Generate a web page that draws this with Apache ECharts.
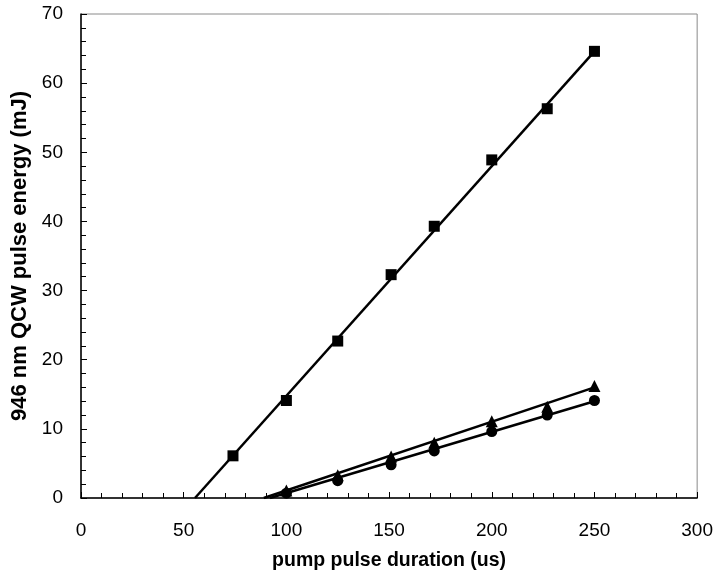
<!DOCTYPE html>
<html>
<head>
<meta charset="utf-8">
<script src="https://cdn.jsdelivr.net/npm/echarts@6/dist/echarts.min.js"></script>
<style>
html,body{margin:0;padding:0;background:#fff;}
#chart{width:716px;height:576px;}
</style>
</head>
<body>
<div id="chart"></div>
<script>
// Data
var squareX = [74, 100, 125, 151, 172, 200, 227, 250];
var squareY = [6.1, 14.1, 22.7, 32.3, 39.3, 48.9, 56.3, 64.6];
var lowX = [100, 125, 151, 172, 200, 227, 250];
var triangleY = [1.1, 3.3, 6.0, 8.0, 11.1, 13.2, 16.2];
var circleY = [0.7, 2.5, 4.8, 6.8, 9.6, 12.0, 14.1];
// Linear fit lines (endpoints)
var squareFitX = [55.5, 250];
var squareFitY = [0, 64.6];
var triangleFitX = [89, 250];
var triangleFitY = [0, 16.0];
var circleFitX = [92, 250];
var circleFitY = [0, 14.0];

var xTitle = 'pump pulse duration (us)';
var yTitle = '946 nm QCW pulse energy (mJ)';

function pairs(xs, ys) { return xs.map(function (x, i) { return [x, ys[i]]; }); }

var font = 'Liberation Sans, Arial, Helvetica, sans-serif';
var chart = echarts.init(document.getElementById('chart'), null, {renderer: 'canvas'});

function fitSeries(xs, ys) {
  return {
    type: 'line', data: pairs(xs, ys), showSymbol: false, symbol: 'none',
    lineStyle: {color: '#000', width: 2.5}, silent: true, z: 3, animation: false
  };
}
function pointSeries(xs, ys, symbol, size) {
  return {
    type: 'scatter', data: pairs(xs, ys), symbol: symbol, symbolSize: size,
    itemStyle: {color: '#000', opacity: 1}, z: 4, animation: false
  };
}

chart.setOption({
  animation: false,
  backgroundColor: '#fff',
  grid: {left: 81, right: 17, top: 14, bottom: 77, show: true, borderColor: '#8a8a8a', borderWidth: 1, backgroundColor: 'transparent'},
  xAxis: {
    type: 'value', min: 0, max: 300, interval: 50,
    name: xTitle, nameLocation: 'middle', nameGap: 53,
    nameTextStyle: {fontFamily: font, fontSize: 19.5, fontWeight: 'bold', color: '#000'},
    axisLine: {show: true, onZero: false, lineStyle: {color: '#000', width: 1.5}},
    axisTick: {show: true, inside: true, length: 6, lineStyle: {color: '#000', width: 1}},
    minorTick: {show: true, splitNumber: 5, length: 5, lineStyle: {color: '#000', width: 1}},
    axisLabel: {fontFamily: font, fontSize: 19, color: '#000', margin: 23},
    splitLine: {show: false}, minorSplitLine: {show: false}
  },
  yAxis: {
    type: 'value', min: 0, max: 70, interval: 10,
    name: yTitle, nameLocation: 'middle', nameGap: 46,
    nameTextStyle: {fontFamily: font, fontSize: 22, fontWeight: 'bold', color: '#000'},
    axisLine: {show: true, onZero: false, lineStyle: {color: '#000', width: 1.5}},
    axisTick: {show: true, inside: true, length: 6, lineStyle: {color: '#000', width: 1}},
    minorTick: {show: true, splitNumber: 5, length: 5, lineStyle: {color: '#000', width: 1}},
    axisLabel: {fontFamily: font, fontSize: 19, color: '#000', margin: 18},
    splitLine: {show: false}, minorSplitLine: {show: false}
  },
  series: [
    fitSeries(squareFitX, squareFitY),
    fitSeries(triangleFitX, triangleFitY),
    fitSeries(circleFitX, circleFitY),
    pointSeries(squareX, squareY, 'rect', 11),
    pointSeries(lowX, circleY, 'circle', 11),
    pointSeries(lowX, triangleY, 'triangle', 12)
  ]
});
</script>
</body>
</html>
